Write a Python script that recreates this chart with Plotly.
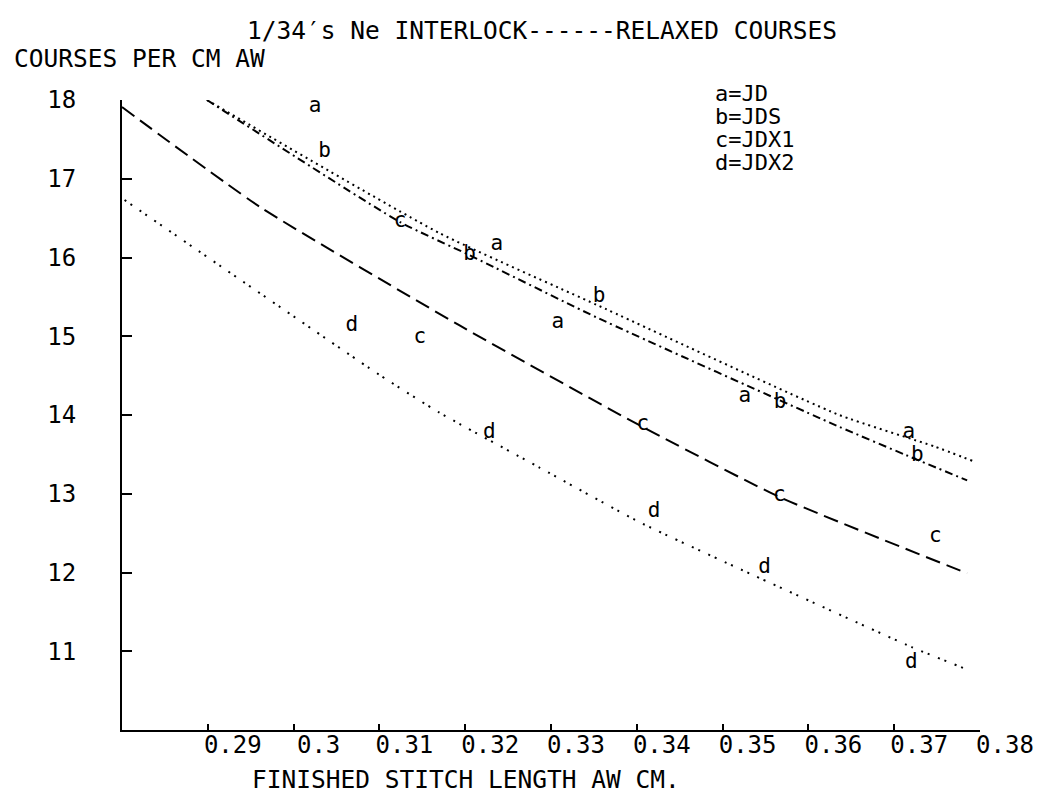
import plotly.graph_objects as go

# Fitted curves: finished stitch length (cm) vs courses per cm
a_x = [0.2899, 0.3170, 0.3353, 0.3636, 0.3747, 0.3793]
a_y = [18.0, 16.31, 15.40, 14.00, 13.60, 13.41]
b_x = [0.2899, 0.3124, 0.3205, 0.3353, 0.3636, 0.3714, 0.3785]
b_y = [18.0, 16.45, 16.03, 15.24, 13.85, 13.49, 13.17]
c_x = [0.2800, 0.2961, 0.3193, 0.3403, 0.3566, 0.3785]
c_y = [17.91, 16.64, 15.14, 13.87, 12.96, 11.99]
d_x = [0.2803, 0.3100, 0.3170, 0.3287, 0.3403, 0.3535, 0.3721, 0.3787]
d_y = [16.73, 14.51, 14.03, 13.33, 12.64, 11.97, 11.05, 10.76]

# Measured points, plotted as letters
pt_letter = ["a", "b", "c", "a", "b", "a", "b", "d", "c", "a",
             "b", "c", "d", "a", "b", "c", "d", "c", "d", "d"]
pt_x = [0.3025, 0.3036, 0.3124, 0.3237, 0.3205, 0.3308, 0.3356, 0.3068, 0.3147, 0.3526,
        0.3567, 0.3407, 0.3228, 0.3717, 0.3727, 0.3566, 0.3420, 0.3748, 0.3549, 0.3720]
pt_y = [17.91, 17.34, 16.45, 16.16, 16.03, 15.17, 15.50, 15.13, 14.98, 14.23,
        14.15, 13.87, 13.78, 13.77, 13.48, 12.98, 12.77, 12.45, 12.06, 10.86]

x_ticks = [0.29, 0.30, 0.31, 0.32, 0.33, 0.34, 0.35, 0.36, 0.37, 0.38]
x_tick_text = ["0.29", "0.3", "0.31", "0.32", "0.33", "0.34", "0.35", "0.36", "0.37", "0.38"]
y_ticks = [11, 12, 13, 14, 15, 16, 17, 18]

legend_lines = ["a=JD", "b=JDS", "c=JDX1", "d=JDX2"]

FONT = "DejaVu Sans Mono"
W, H = 1040, 798
L, R, T, B = 122, 60, 100, 68
PW, PH = W - L - R, H - T - B


def px(x):
    return (x - L) / PW


def py(y):
    return (H - B - y) / PH


fig = go.Figure()

curve_styles = [
    (a_x, a_y, "2px,4px", 2),
    (b_x, b_y, "8px,4px,2px,4px", 2),
    (c_x, c_y, "15px,7px", 2),
    (d_x, d_y, "2px,5px,2px,9px", 2),
]
for xs, ys, dash, w in curve_styles:
    fig.add_trace(go.Scatter(
        x=xs, y=ys, mode="lines",
        line=dict(color="black", width=w, dash=dash, shape="spline", smoothing=0.5),
        hoverinfo="skip", showlegend=False,
    ))

fig.add_trace(go.Scatter(
    x=pt_x, y=pt_y, mode="text", text=pt_letter,
    textposition="middle center",
    textfont=dict(family=FONT, size=21, color="black"),
    cliponaxis=False, showlegend=False,
))

annotations = [
    dict(text="1/34′s Ne INTERLOCK------RELAXED COURSES", x=px(542), y=py(31),
         xanchor="center", yanchor="middle", font=dict(size=24.5)),
    dict(text="COURSES PER CM AW", x=px(12), y=py(58),
         xanchor="left", yanchor="middle", font=dict(size=24.5)),
    dict(text="FINISHED STITCH LENGTH AW CM.", x=px(250), y=py(779),
         xanchor="left", yanchor="middle", font=dict(size=24.5)),
]
for i, line in enumerate(legend_lines):
    annotations.append(dict(text=line, x=px(713), y=py(93 + 23 * i),
                            xanchor="left", yanchor="middle", font=dict(size=22)))
for an in annotations:
    an.update(xref="paper", yref="paper", showarrow=False)
    an["font"].update(family=FONT, color="black")

fig.update_layout(
    width=W, height=H,
    margin=dict(l=L, r=R, t=T, b=B, autoexpand=False),
    paper_bgcolor="white", plot_bgcolor="white",
    font=dict(family=FONT, color="black"),
    annotations=annotations,
    showlegend=False,
)
fig.update_xaxes(
    range=[0.28, 0.38], tickvals=x_ticks, ticktext=x_tick_text, automargin=False,
    showgrid=False, zeroline=False, showline=True, linecolor="black", linewidth=2,
    ticks="inside", ticklen=6, tickwidth=2, tickcolor="black",
    tickfont=dict(family=FONT, size=24, color="black"),
    ticklabelshift=25, ticklabelstandoff=-8, ticklabeloverflow="allow",
)
fig.update_yaxes(
    range=[10, 18], tickvals=y_ticks, automargin=False,
    showgrid=False, zeroline=False, showline=True, linecolor="black", linewidth=2,
    ticks="inside", ticklen=10, tickwidth=2, tickcolor="black",
    tickfont=dict(family=FONT, size=24, color="black"),
    ticklabelstandoff=39,
)

fig.write_html("out.html")
